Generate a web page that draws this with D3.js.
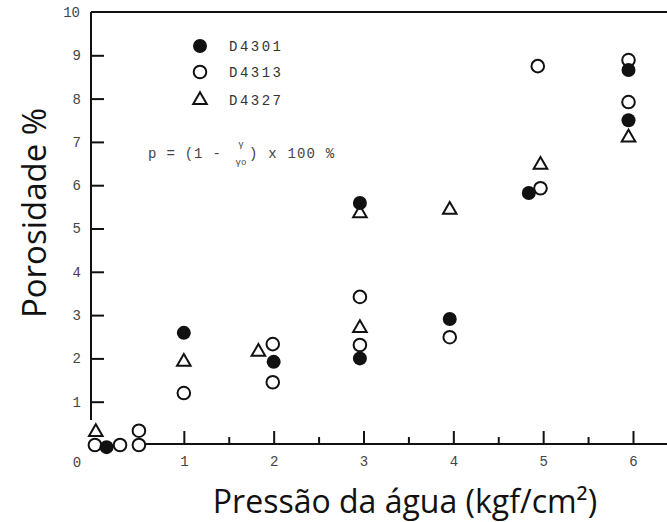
<!DOCTYPE html>
<html>
<meta charset="utf-8">
<title>Porosidade x Pressão</title>
<style>
  body { margin: 0; background: #fff; }
  .tick text { font-family: "Liberation Mono", monospace; font-size: 14px; fill: #444; }
</style>
<body>
<div id="chart"></div>
<script src="https://d3js.org/d3.v7.min.js"></script>
<script>
// series: [pressure, porosity]
var d4301 = [[0.14, -0.05], [1.0, 2.59], [2.0, 1.92], [2.96, 5.59], [2.96, 2.0],
             [3.96, 2.91], [4.84, 5.82], [5.95, 8.66], [5.95, 7.5]];
var d4313 = [[0.01, 0], [0.29, 0], [0.5, 0], [0.5, 0.33], [1.0, 1.2], [1.99, 2.33],
             [1.99, 1.45], [2.96, 3.42], [2.96, 2.31], [3.96, 2.49], [4.94, 8.75],
             [4.97, 5.93], [5.95, 8.89], [5.95, 7.92]];
var d4327 = [[0.02, 0.3], [1.0, 1.92], [1.83, 2.15], [2.96, 5.35], [2.96, 2.7],
             [3.96, 5.43], [4.97, 6.47], [5.95, 7.1]];
var xTicks = [1, 2, 3, 4, 5, 6];
var xMinor = [1.5, 2.5, 3.5, 4.5, 5.5];
var yTicks = [1, 2, 3, 4, 5, 6, 7, 8, 9];
var legendNames = ["D4301", "D4313", "D4327"];

var W = 667, H = 522;
var svg = d3.select("#chart").append("svg")
  .attr("width", W).attr("height", H)
  .style("background", "#fff");

var x = d3.scaleLinear().domain([0, 6]).range([94, 633]);
var y = d3.scaleLinear().domain([0, 10]).range([445, 12]);

// frame: left axis line and top line
svg.append("line").attr("x1", 91).attr("x2", 91).attr("y1", y(10)).attr("y2", 420)
  .attr("stroke", "#111").attr("stroke-width", 2);
svg.append("line").attr("x1", 91).attr("x2", W).attr("y1", y(10)).attr("y2", y(10))
  .attr("stroke", "#111").attr("stroke-width", 2);
// bottom axis line starts after the points near zero
svg.append("line").attr("x1", 146).attr("x2", W).attr("y1", 444).attr("y2", 444)
  .attr("stroke", "#111").attr("stroke-width", 2);

// y axis ticks (pointing inward)
var yAxis = d3.axisLeft(y).tickValues(yTicks).tickSizeInner(-13).tickSizeOuter(0).tickPadding(10);
var gy = svg.append("g").attr("transform", "translate(91,0)").call(yAxis);
gy.select(".domain").remove();
gy.selectAll(".tick line").attr("stroke", "#111").attr("stroke-width", 2);

svg.append("text").attr("x", 80).attr("y", y(10) + 5)
  .attr("text-anchor", "end").style("font-family", "Liberation Mono, monospace")
  .style("font-size", "14px").style("fill", "#444").text("10");

// x axis ticks (pointing up)
var xAxis = d3.axisBottom(x).tickValues(xTicks).tickSizeInner(-13).tickSizeOuter(0).tickPadding(12)
  .tickFormat(d3.format("d"));
var gx = svg.append("g").attr("transform", "translate(0,444)").call(xAxis);
gx.select(".domain").remove();
gx.selectAll(".tick line").attr("stroke", "#111").attr("stroke-width", 2);

var xAxisMinor = d3.axisBottom(x).tickValues(xMinor).tickSizeInner(-7).tickSizeOuter(0).tickFormat("");
var gm = svg.append("g").attr("transform", "translate(0,444)").call(xAxisMinor);
gm.select(".domain").remove();
gm.selectAll(".tick line").attr("stroke", "#111").attr("stroke-width", 2);

svg.append("text").attr("x", 77).attr("y", 467)
  .attr("text-anchor", "middle").style("font-family", "Liberation Mono, monospace")
  .style("font-size", "14px").style("fill", "#444").text("0");

// points
var tri = d3.symbol().type(d3.symbolTriangle).size(80);

svg.append("g").selectAll("circle").data(d4313).join("circle")
  .attr("cx", d => x(d[0])).attr("cy", d => y(d[1])).attr("r", 6.3)
  .attr("fill", "#fff").attr("stroke", "#111").attr("stroke-width", 2);

svg.append("g").selectAll("circle").data(d4301).join("circle")
  .attr("cx", d => x(d[0])).attr("cy", d => y(d[1])).attr("r", 7)
  .attr("fill", "#111");

svg.append("g").selectAll("path").data(d4327).join("path")
  .attr("d", tri)
  .attr("transform", d => "translate(" + x(d[0]) + "," + y(d[1]) + ")")
  .attr("fill", "none").attr("stroke", "#111").attr("stroke-width", 2);

// legend
var lg = svg.append("g");
var ly = [46, 72, 100];
lg.append("circle").attr("cx", 200).attr("cy", ly[0]).attr("r", 7).attr("fill", "#111");
lg.append("circle").attr("cx", 200).attr("cy", ly[1]).attr("r", 6.3)
  .attr("fill", "#fff").attr("stroke", "#111").attr("stroke-width", 2);
lg.append("path").attr("d", tri).attr("transform", "translate(200," + ly[2] + ")")
  .attr("fill", "none").attr("stroke", "#111").attr("stroke-width", 2);
lg.selectAll("text").data(legendNames).join("text")
  .attr("x", 229).attr("y", (d, i) => ly[i] + 5)
  .style("font-family", "Liberation Mono, monospace").style("font-size", "14px")
  .style("letter-spacing", "2.5px").style("fill", "#333").text(d => d);

// formula
var fm = svg.append("g").style("font-family", "Liberation Mono, monospace").style("fill", "#444");
fm.append("text").attr("x", 148).attr("y", 158).style("font-size", "14px")
  .style("letter-spacing", "0.8px").text("p = (1 -");
fm.append("text").attr("x", 241).attr("y", 147).attr("text-anchor", "middle")
  .style("font-size", "9px").text("γ");
fm.append("text").attr("x", 241).attr("y", 165).attr("text-anchor", "middle")
  .style("font-size", "9px").text("γo");
fm.append("text").attr("x", 249).attr("y", 158).style("font-size", "14px")
  .style("letter-spacing", "1.2px").text(") x 100  %");

// axis titles
svg.append("text").attr("x", 405).attr("y", 513).attr("text-anchor", "middle")
  .style("font-family", "Open Sans, sans-serif").style("font-size", "32px").style("fill", "#111")
  .text("Pressão da água (kgf/cm²)");
svg.append("text").attr("transform", "translate(46,213) rotate(-90)").attr("text-anchor", "middle")
  .style("font-family", "Open Sans, sans-serif").style("font-size", "33px").style("fill", "#111")
  .text("Porosidade %");
</script>
</body>
</html>
